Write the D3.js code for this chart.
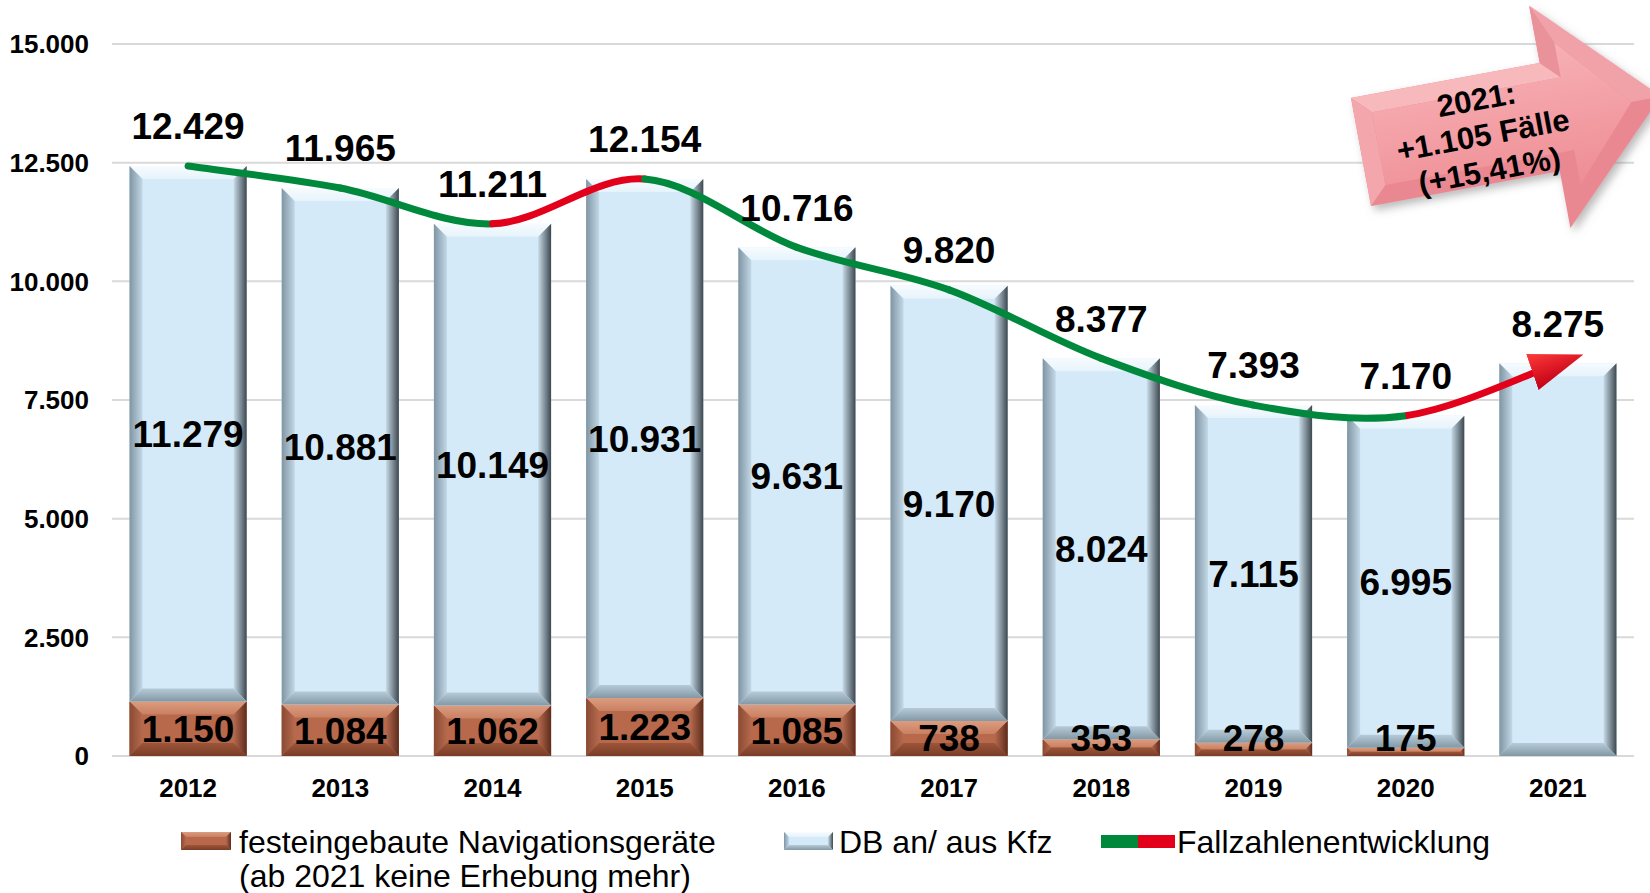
<!DOCTYPE html>
<html>
<head>
<meta charset="utf-8">
<script src="https://cdn.jsdelivr.net/npm/d3@7"></script>
<style>
  body { margin: 0; background: #fff; }
  text { font-family: Arial, "Liberation Sans", sans-serif; }
</style>
</head>
<body>
<div id="chart"></div>
<script>
const years = ["2012", "2013", "2014", "2015", "2016", "2017", "2018", "2019", "2020", "2021"];
const navValues = [1150, 1084, 1062, 1223, 1085, 738, 353, 278, 175, null];
const dbValues = [11279, 10881, 10149, 10931, 9631, 9170, 8024, 7115, 6995, 8275];
// case totals as printed in the source (2017 printed as 9.820)
const totalValues = [12429, 11965, 11211, 12154, 10716, 9820, 8377, 7393, 7170, 8275];
const yTicks = [0, 2500, 5000, 7500, 10000, 12500, 15000];
const calloutLines = ["2021:", "+1.105 Fälle", "(+15,41%)"];
const legendNav = ["festeingebaute Navigationsgeräte", "(ab 2021 keine Erhebung mehr)"];
const legendDb = "DB an/ aus Kfz";
const legendLine = "Fallzahlenentwicklung";

(function () {
  const width = 1650, height = 893;
  const de = d3.formatLocale({ decimal: ",", thousands: ".", grouping: [3], currency: ["", "€"] });
  const fmt = de.format(",d");

  const data = years.map((y, i) => ({
    year: y,
    nav: navValues[i],
    db: dbValues[i],
    stack: dbValues[i] + (navValues[i] || 0),
    total: totalValues[i]
  }));

  const svg = d3.select("#chart").append("svg")
    .attr("width", width).attr("height", height);

  const x = d3.scaleBand().domain(years).range([112, 1634]).paddingInner(0.23).paddingOuter(0.115);
  const y = d3.scaleLinear().domain([0, 15000]).range([756, 44]);

  const defs = svg.append("defs");
  function grad(id, x2, y2, stops) {
    const lg = defs.append("linearGradient").attr("id", id)
      .attr("x1", 0).attr("y1", 0).attr("x2", x2).attr("y2", y2);
    stops.forEach((c, i) => lg.append("stop").attr("offset", i / (stops.length - 1)).attr("stop-color", c));
  }
  grad("bTop", 0, 1, ["#f7fbfe", "#e6f3fb"]);
  grad("bLeft", 1, 0, ["#7f95a3", "#c3d8e6"]);
  grad("bRight", 1, 0, ["#c8dbe7", "#3d4850"]);
  grad("bBot", 0, 1, ["#b6cad7", "#8398a5"]);
  grad("nTop", 0, 1, ["#dc9c7f", "#c98062"]);
  grad("nLeft", 1, 0, ["#8a4a33", "#b56a4e"]);
  grad("nRight", 1, 0, ["#b56a4e", "#5e2c1c"]);
  grad("nBot", 0, 1, ["#9c5539", "#7a3d28"]);
  grad("arrowFill", 0, 1, ["#f7b0b5", "#ee8d94"]);
  grad("headFill", 0, 1, ["#ff3b3b", "#c10014"]);

  const blue = { face: "#d5eaf8", top: "url(#bTop)", left: "url(#bLeft)", right: "url(#bRight)", bottom: "url(#bBot)" };
  const brown = { face: "#b8694c", top: "url(#nTop)", left: "url(#nLeft)", right: "url(#nRight)", bottom: "url(#nBot)" };

  function bevelBar(g, bx, by, w, h, pal, maxB) {
    if (h <= 0) return;
    const b = Math.min(maxB, h / 2, w / 2);
    const pts = a => a.map(p => p.join(",")).join(" ");
    g.append("rect").attr("x", bx).attr("y", by).attr("width", w).attr("height", h).attr("fill", pal.face);
    g.append("polygon").attr("fill", pal.top)
      .attr("points", pts([[bx, by], [bx + w, by], [bx + w - b, by + b], [bx + b, by + b]]));
    g.append("polygon").attr("fill", pal.left)
      .attr("points", pts([[bx, by], [bx + b, by + b], [bx + b, by + h - b], [bx, by + h]]));
    g.append("polygon").attr("fill", pal.right)
      .attr("points", pts([[bx + w, by], [bx + w, by + h], [bx + w - b, by + h - b], [bx + w - b, by + b]]));
    g.append("polygon").attr("fill", pal.bottom)
      .attr("points", pts([[bx, by + h], [bx + b, by + h - b], [bx + w - b, by + h - b], [bx + w, by + h]]));
  }

  // gridlines
  svg.append("g").selectAll("line").data(yTicks).join("line")
    .attr("x1", 112).attr("x2", 1634)
    .attr("y1", d => y(d)).attr("y2", d => y(d))
    .attr("stroke", "#d9d9d9").attr("stroke-width", 2);

  // y tick labels
  svg.append("g").selectAll("text").data(yTicks).join("text")
    .attr("x", 89).attr("y", d => y(d)).attr("dy", "0.36em")
    .attr("text-anchor", "end")
    .style("font-size", "26px").style("font-weight", "bold")
    .text(d => fmt(d));

  // x tick labels
  svg.append("g").selectAll("text").data(years).join("text")
    .attr("x", d => x(d) + x.bandwidth() / 2).attr("y", 797)
    .attr("text-anchor", "middle")
    .style("font-size", "26px").style("font-weight", "bold")
    .text(d => d);

  // bars
  const bars = svg.append("g");
  data.forEach(d => {
    const bx = x(d.year), w = x.bandwidth();
    const nav = d.nav || 0;
    if (d.nav) bevelBar(bars, bx, y(nav), w, y(0) - y(nav), brown, 13);
    bevelBar(bars, bx, y(d.stack), w, y(nav) - y(d.stack), blue, 13);
  });

  // smoothed trend line, coloured by direction
  const P = data.map(d => [x(d.year) + x.bandwidth() / 2, y(d.total)]);
  defs.append("marker").attr("id", "head")
    .attr("markerUnits", "userSpaceOnUse")
    .attr("viewBox", "0 0 54 38").attr("refX", 27).attr("refY", 19)
    .attr("markerWidth", 54).attr("markerHeight", 38)
    .attr("orient", "auto")
    .append("path").attr("d", "M0,0 L54,19 L0,38 Z").attr("fill", "url(#headFill)");

  const lineG = svg.append("g");
  for (let i = 0; i < P.length - 1; i++) {
    const p0 = P[i - 1] || P[i], p1 = P[i], p2 = P[i + 1], p3 = P[i + 2] || P[i + 1];
    const c1 = [p1[0] + (p2[0] - p0[0]) / 6, p1[1] + (p2[1] - p0[1]) / 6];
    const c2 = [p2[0] - (p3[0] - p1[0]) / 6, p2[1] - (p3[1] - p1[1]) / 6];
    const rising = data[i + 1].total > data[i].total;
    const path = d3.path();
    path.moveTo(p1[0], p1[1]);
    path.bezierCurveTo(c1[0], c1[1], c2[0], c2[1], p2[0], p2[1]);
    const el = lineG.append("path").attr("d", path.toString())
      .attr("fill", "none")
      .attr("stroke", rising ? "#e2001a" : "#00893d")
      .attr("stroke-width", 7)
      .attr("stroke-linecap", "round");
    if (i === P.length - 2) el.attr("marker-end", "url(#head)").attr("stroke-linecap", "butt");
  }

  const labelStyle = s => s.style("font-size", "37px").style("font-weight", "bold").attr("text-anchor", "middle").attr("dy", "0.36em");

  // total labels
  svg.append("g").selectAll("text").data(data).join("text")
    .attr("x", d => x(d.year) + x.bandwidth() / 2)
    .attr("y", d => y(d.total) - 40)
    .call(labelStyle)
    .text(d => fmt(d.total));

  // DB labels
  svg.append("g").selectAll("text").data(data.filter(d => d.nav)).join("text")
    .attr("x", d => x(d.year) + x.bandwidth() / 2)
    .attr("y", d => (y(d.stack) + y(d.nav)) / 2)
    .call(labelStyle)
    .text(d => fmt(d.db));

  // navigation labels
  svg.append("g").selectAll("text").data(data.filter(d => d.nav)).join("text")
    .attr("x", d => x(d.year) + x.bandwidth() / 2)
    .attr("y", d => Math.min((y(0) + y(d.nav)) / 2, 738))
    .call(labelStyle)
    .text(d => fmt(d.nav));

  // callout arrow
  const filt = defs.append("filter").attr("id", "shadow").attr("x", "-20%").attr("y", "-20%").attr("width", "140%").attr("height", "140%");
  filt.append("feDropShadow").attr("dx", 3).attr("dy", 5).attr("stdDeviation", 4).attr("flood-color", "#777").attr("flood-opacity", 0.5);
  const ca = svg.append("g").attr("transform", "translate(1361,152) rotate(-10.5)");
  const outer = [[0, -55], [192, -55], [192, -113], [305, 0], [192, 113], [192, 55], [0, 55]];
  const inner = [[18, -37], [210, -37], [210, -72], [275, 0], [210, 72], [210, 37], [18, 37]];
  const ps = a => a.map(p => p.join(",")).join(" ");
  ca.append("polygon").attr("points", ps(outer)).attr("fill", "#e98890").attr("filter", "url(#shadow)");
  ca.append("polygon").attr("points", ps([outer[0], outer[1], inner[1], inner[0]])).attr("fill", "#f8b9bd");
  ca.append("polygon").attr("points", ps([outer[0], inner[0], inner[6], outer[6]])).attr("fill", "#f3a6ab");
  ca.append("polygon").attr("points", ps([outer[2], outer[3], inner[3], inner[2]])).attr("fill", "#f1a2a8");
  ca.append("polygon").attr("points", ps([outer[1], outer[2], inner[2], inner[1]])).attr("fill", "#ea9299");
  ca.append("polygon").attr("points", ps(inner)).attr("fill", "url(#arrowFill)");
  ca.selectAll("text").data(calloutLines).join("text")
    .attr("x", 123).attr("y", (d, i) => -31 + i * 36).attr("dy", "0.36em")
    .attr("text-anchor", "middle")
    .style("font-size", "31px").style("font-weight", "bold")
    .text(d => d);

  // legend
  const lg = svg.append("g");
  const nG = lg.append("g");
  bevelBar(nG, 181, 832, 50, 18, brown, 5);
  lg.selectAll("text.nav").data(legendNav).join("text").attr("class", "nav")
    .attr("x", 239).attr("y", (d, i) => 853 + i * 34)
    .style("font-size", "32px").text(d => d);
  const bG = lg.append("g");
  bevelBar(bG, 784, 832, 49, 18, blue, 5);
  lg.append("text").attr("x", 839).attr("y", 853).style("font-size", "32px").text(legendDb);
  lg.append("rect").attr("x", 1101).attr("y", 835).attr("width", 37).attr("height", 13).attr("fill", "#00893d");
  lg.append("rect").attr("x", 1138).attr("y", 835).attr("width", 37).attr("height", 13).attr("fill", "#e2001a");
  lg.append("text").attr("x", 1177).attr("y", 853).style("font-size", "32px").text(legendLine);
})();
</script>
</body>
</html>
